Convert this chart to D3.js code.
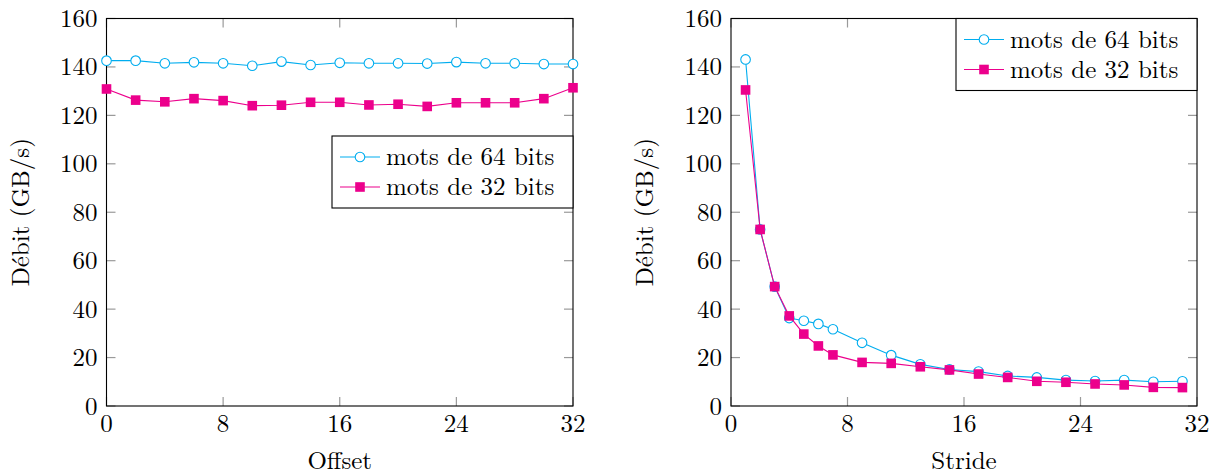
<!DOCTYPE html>
<html>
<head>
<meta charset="utf-8">
<script src="https://cdn.jsdelivr.net/npm/d3@7"></script>
<style>
  body { margin: 0; background: #fff; }
  svg text { font-family: "Latin Modern Roman", "CMU Serif", "Liberation Serif", serif; fill: #000; }
</style>
</head>
<body>
<svg id="chart" width="1219" height="475"></svg>
<script>
const SERIES_NAMES = ['mots de 64 bits', 'mots de 32 bits'];
const COLORS = ['#00adef', '#ec008c'];

// left panel: offset
const offsets = [0, 2, 4, 6, 8, 10, 12, 14, 16, 18, 20, 22, 24, 26, 28, 30, 32];
const offset64 = [142.6, 142.6, 141.5, 141.9, 141.5, 140.5, 142.2, 140.8, 141.7, 141.5, 141.5, 141.4, 142.0, 141.5, 141.5, 141.2, 141.2];
const offset32 = [130.9, 126.3, 125.6, 126.9, 126.1, 124.0, 124.2, 125.4, 125.4, 124.3, 124.6, 123.7, 125.2, 125.2, 125.2, 126.9, 131.4];

// right panel: stride
const strides = [1, 2, 3, 4, 5, 6, 7, 9, 11, 13, 15, 17, 19, 21, 23, 25, 27, 29, 31];
const stride64 = [143.1, 72.9, 49.3, 36.3, 35.2, 33.9, 31.7, 26.1, 21.0, 17.2, 15.1, 14.2, 12.4, 11.8, 10.7, 10.3, 10.7, 10.0, 10.2];
const stride32 = [130.5, 72.9, 49.3, 37.2, 29.7, 24.8, 21.1, 18.0, 17.6, 16.2, 14.9, 13.2, 11.8, 10.2, 9.8, 9.1, 8.7, 7.7, 7.6];

const xTicks = [0, 8, 16, 24, 32];
const yTicks = [0, 20, 40, 60, 80, 100, 120, 140, 160];

const FS = '25px';
const svg = d3.select('#chart');

function drawPanel(opts) {
    const { left, right, top, bottom, xs, ys, xLabel, legend } = opts;
    const x = d3.scaleLinear().domain([0, 32]).range([left, right]);
    const y = d3.scaleLinear().domain([0, 160]).range([bottom, top]);
    const g = svg.append('g');

    // ticks, inside and mirrored
    const tickCol = '#9a9a9a', tl = 9;
    yTicks.forEach(v => {
        g.append('line').attr('x1', left).attr('x2', left + tl).attr('y1', y(v)).attr('y2', y(v))
            .attr('stroke', tickCol).attr('stroke-width', 1.2);
        g.append('line').attr('x1', right - tl).attr('x2', right).attr('y1', y(v)).attr('y2', y(v))
            .attr('stroke', tickCol).attr('stroke-width', 1.2);
        g.append('text').attr('x', left - 9).attr('y', y(v) + 8.5)
            .attr('text-anchor', 'end').attr('font-size', FS).text(v);
    });
    xTicks.forEach(v => {
        g.append('line').attr('x1', x(v)).attr('x2', x(v)).attr('y1', bottom).attr('y2', bottom - tl)
            .attr('stroke', tickCol).attr('stroke-width', 1.2);
        g.append('line').attr('x1', x(v)).attr('x2', x(v)).attr('y1', top).attr('y2', top + tl)
            .attr('stroke', tickCol).attr('stroke-width', 1.2);
        g.append('text').attr('x', x(v)).attr('y', bottom + 26)
            .attr('text-anchor', 'middle').attr('font-size', FS).text(v);
    });

    // frame
    g.append('rect').attr('x', left).attr('y', top).attr('width', right - left).attr('height', bottom - top)
        .attr('fill', 'none').attr('stroke', '#000').attr('stroke-width', 1.1);

    // labels
    g.append('text').attr('transform', `translate(${left - 78},${(top + bottom) / 2}) rotate(-90)`)
        .attr('text-anchor', 'middle').attr('font-size', FS).text('Débit (GB/s)');
    g.append('text').attr('x', (left + right) / 2).attr('y', bottom + 63)
        .attr('text-anchor', 'middle').attr('font-size', FS).text(xLabel);

    const line = d3.line().x(d => x(d[0])).y(d => y(d[1]));

    ys.forEach((vals, i) => {
        const pts = xs.map((xv, j) => [xv, vals[j]]);
        g.append('path').datum(pts).attr('d', line)
            .attr('fill', 'none').attr('stroke', COLORS[i]).attr('stroke-width', 1.1);
        if (i === 0) {
            g.selectAll(null).data(pts).enter().append('circle')
                .attr('cx', d => x(d[0])).attr('cy', d => y(d[1])).attr('r', 4.8)
                .attr('fill', '#fff').attr('stroke', COLORS[i]).attr('stroke-width', 1.1);
        } else {
            g.selectAll(null).data(pts).enter().append('rect')
                .attr('x', d => x(d[0]) - 4.8).attr('y', d => y(d[1]) - 4.8)
                .attr('width', 9.6).attr('height', 9.6).attr('fill', COLORS[i]);
        }
    });

    // legend
    const lg = g.append('g').attr('transform', `translate(${legend.x},${legend.y})`);
    lg.append('rect').attr('width', legend.w).attr('height', 72)
        .attr('fill', '#fff').attr('stroke', '#000').attr('stroke-width', 1.1);
    SERIES_NAMES.forEach((name, i) => {
        const cy = 21 + i * 30;
        lg.append('line').attr('x1', 8).attr('x2', 48).attr('y1', cy).attr('y2', cy)
            .attr('stroke', COLORS[i]).attr('stroke-width', 1.1);
        if (i === 0) {
            lg.append('circle').attr('cx', 28).attr('cy', cy).attr('r', 4.8)
                .attr('fill', '#fff').attr('stroke', COLORS[i]).attr('stroke-width', 1.1);
        } else {
            lg.append('rect').attr('x', 23.2).attr('y', cy - 4.8).attr('width', 9.6).attr('height', 9.6)
                .attr('fill', COLORS[i]);
        }
        lg.append('text').attr('x', 54).attr('y', cy + 8).attr('font-size', FS).text(name);
    });
}

drawPanel({ left: 106.5, right: 573, top: 18.5, bottom: 406, xs: offsets, ys: [offset64, offset32],
    xLabel: 'Offset', legend: { x: 332, y: 136, w: 241 } });
drawPanel({ left: 731, right: 1197, top: 18.5, bottom: 406, xs: strides, ys: [stride64, stride32],
    xLabel: 'Stride', legend: { x: 956, y: 18.5, w: 241 } });
</script>
</body>
</html>
